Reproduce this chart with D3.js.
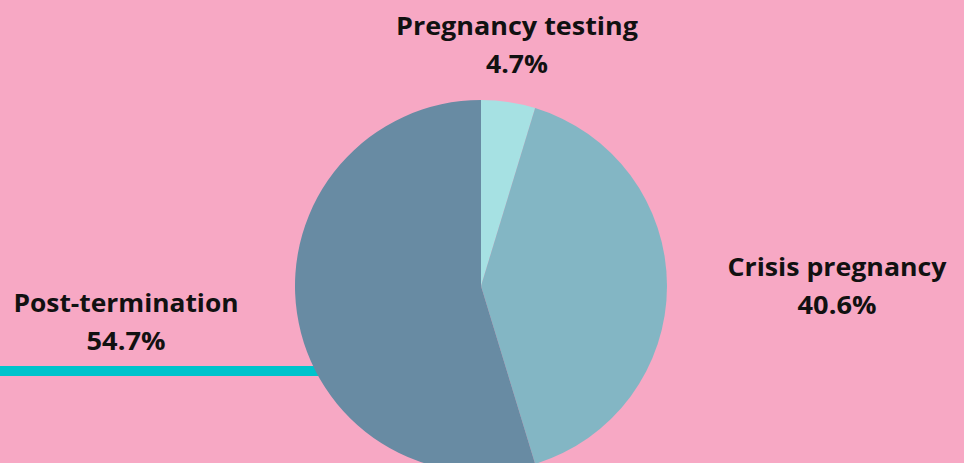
<!DOCTYPE html>
<html>
<head>
<meta charset="utf-8">
<script src="https://cdn.jsdelivr.net/npm/d3@7"></script>
<style>
  html, body { margin: 0; padding: 0; background: #f7a8c4; }
  svg { display: block; }
  text { font-family: "Open Sans", Lato, sans-serif; font-weight: bold; fill: #111; }
</style>
</head>
<body>
<div id="chart"></div>
<script>
// data
var categories = ["Pregnancy testing", "Crisis pregnancy", "Post-termination"];
var values = [4.7, 40.6, 54.7];
var colors = ["#a6e1e3", "#83b6c4", "#688ba3"];

var width = 964, height = 463;
var cx = 481, cy = 286, radius = 186;

var svg = d3.select("#chart")
  .append("svg")
    .attr("width", width)
    .attr("height", height);

// teal accent bar behind the pie
svg.append("line")
  .attr("x1", 0).attr("x2", cx)
  .attr("y1", 371).attr("y2", 371)
  .attr("stroke", "#00c3cc")
  .attr("stroke-width", 10);

var pie = d3.pie().sort(null).value(function(d) { return d; });
var arc = d3.arc().innerRadius(0).outerRadius(radius);

var g = svg.append("g")
  .attr("transform", "translate(" + cx + "," + cy + ")");

g.selectAll("path")
  .data(pie(values))
  .enter()
  .append("path")
    .attr("d", arc)
    .attr("fill", function(d, i) { return colors[i]; });

// label spots (hand placed, like the original); w = name width, pw = percent width
var labelPos = [
  {x: 517, y: 35, w: 242, pw: 62},
  {x: 837, y: 276, w: 219, pw: 79},
  {x: 126, y: 312, w: 225, pw: 79}
];

var labels = svg.selectAll("g.label")
  .data(categories)
  .enter()
  .append("g")
    .attr("class", "label")
    .attr("transform", function(d, i) { return "translate(" + labelPos[i].x + "," + labelPos[i].y + ")"; });

labels.append("text")
  .attr("text-anchor", "middle")
  .attr("textLength", function(d, i) { return labelPos[i].w; })
  .attr("lengthAdjust", "spacingAndGlyphs")
  .style("font-size", "25px")
  .text(function(d) { return d; });

labels.append("text")
  .attr("text-anchor", "middle")
  .attr("y", 38)
  .attr("textLength", function(d, i) { return labelPos[i].pw; })
  .attr("lengthAdjust", "spacingAndGlyphs")
  .style("font-size", "25px")
  .text(function(d, i) { return values[i].toFixed(1) + "%"; });
</script>
</body>
</html>
